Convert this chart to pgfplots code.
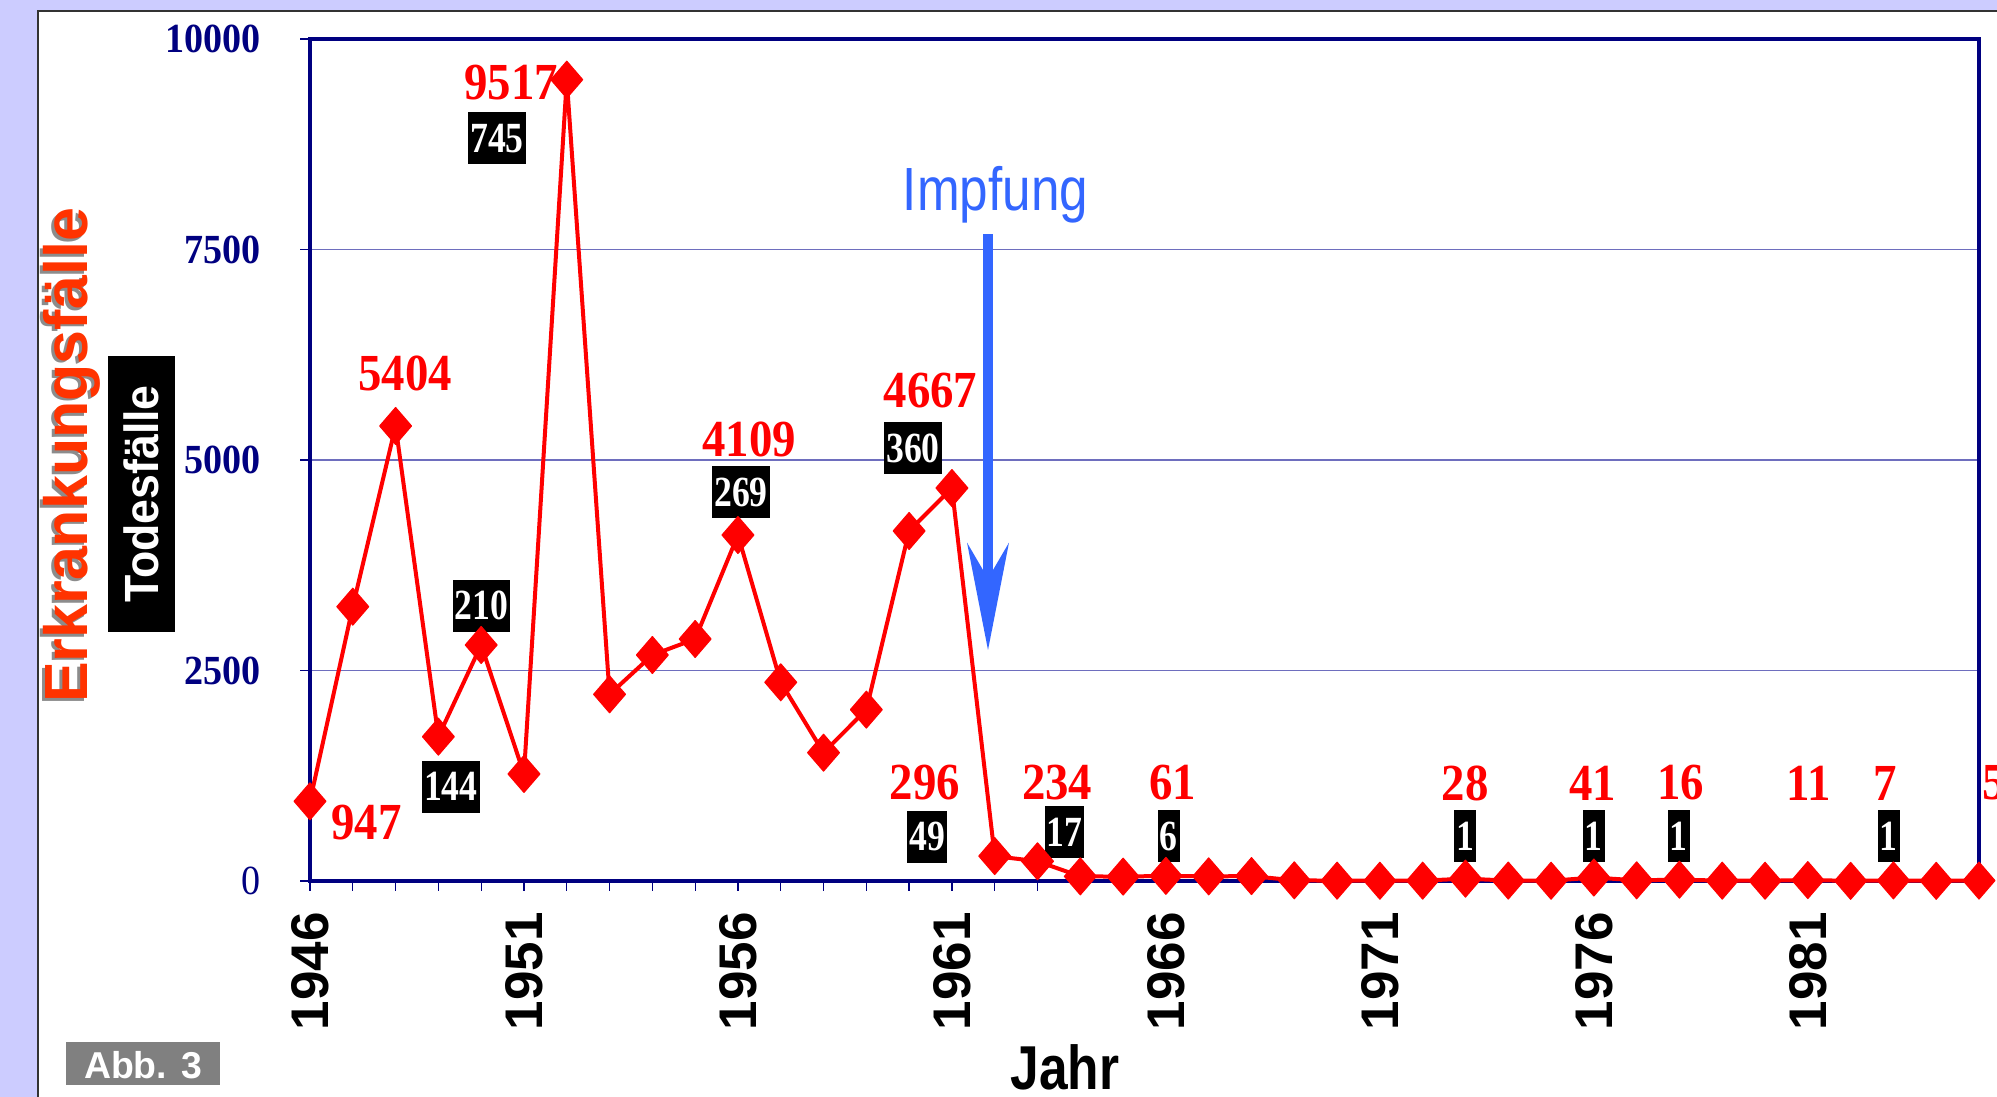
\documentclass[border=0pt]{standalone}
\usepackage{pgfplots}
\pgfplotsset{compat=1.18}
\usepackage{fontspec}
\setmainfont{Liberation Serif}
\newfontfamily\redser[FakeStretch=0.9]{Liberation Serif}
\newfontfamily\boxser[FakeStretch=0.83]{Liberation Serif}
\newfontfamily\tickser[FakeStretch=0.92]{Liberation Serif}
\newfontfamily\sans{Liberation Sans}
\newfontfamily\sansI[FakeStretch=0.84]{Liberation Sans}
\newfontfamily\sansJ[FakeStretch=0.83]{Liberation Sans}
\newfontfamily\sansT[FakeStretch=0.93]{Liberation Sans}
\definecolor{navy}{RGB}{0,0,128}
\definecolor{lav}{RGB}{204,204,255}
\definecolor{gridc}{RGB}{110,110,190}
\definecolor{impf}{RGB}{51,102,255}
\definecolor{erk}{RGB}{255,51,0}
\tikzset{
  rl/.style={text=red, inner sep=0pt, font=\redser\bfseries\fontsize{26pt}{28pt}\selectfont},
  bl/.style={fill=black, text=white, inner xsep=1pt, inner ysep=0pt, minimum height=26pt,
             font=\boxser\bfseries\fontsize{21.5pt}{22pt}\selectfont}
}
\begin{document}
\begin{tikzpicture}
\path[use as bounding box] (0pt,0pt) rectangle (998.5pt,548.5pt);
\clip (0pt,0pt) rectangle (998.5pt,548.5pt);
\fill[lav] (0pt,0pt) rectangle (998.5pt,548.5pt);
\fill[white] (19pt,-10pt) rectangle (1010pt,543pt);
\draw[black!80, line width=1pt] (19pt,-10pt) -- (19pt,543pt) -- (1010pt,543pt);

\begin{axis}[
  at={(155pt,108pt)}, anchor=south west,
  scale only axis, width=834.5pt, height=421pt,
  xmin=1946, xmax=1985, ymin=0, ymax=10000,
  clip=false,
  scaled ticks=false,
  axis line style={draw=navy, line width=2.4pt},
  tick align=outside, tick pos=left,
  xtick={1946,1951,1956,1961,1966,1971,1976,1981},
  xticklabels={1946,1951,1956,1961,1966,1971,1976,1981},
  minor xtick={1946,1947,...,1985},
  ytick={0,2500,5000,7500,10000},
  yticklabels={{\mdseries 0},2500,5000,7500,10000},
  major tick length=5pt, minor tick length=5pt,
  tick style={navy, line width=0.6pt},
  ymajorgrids, grid style={gridc, line width=0.8pt},
  yticklabel style={text=navy, inner sep=0pt, font=\tickser\bfseries\fontsize{20.7pt}{22pt}\selectfont},
  yticklabel shift=19.5pt,
  xticklabel style={rotate=90, anchor=east, inner sep=0pt, font=\sans\bfseries\fontsize{26.5pt}{28pt}\selectfont},
  xticklabel shift=10.5pt,
]
\addplot[color=red, line width=2pt, mark=diamond*, mark size=9.2pt,
  mark options={xscale=1.15, fill=red, line width=0.6pt, line join=round, solid}]
coordinates {
(1946,947) (1947,3258) (1948,5404) (1949,1714) (1950,2803) (1951,1271)
(1952,9517) (1953,2217) (1954,2684) (1955,2874) (1956,4109) (1957,2360)
(1958,1524) (1959,2035) (1960,4157) (1961,4667) (1962,296) (1963,234)
(1964,55) (1965,52) (1966,61) (1967,55) (1968,58) (1969,8) (1970,4)
(1971,3) (1972,4) (1973,28) (1974,5) (1975,3) (1976,41) (1977,8)
(1978,16) (1979,4) (1980,3) (1981,11) (1982,2) (1983,7) (1984,2) (1985,5)
};
\node[rl] at (axis cs:1950.70,9483) {9517};
\node[bl] at (axis cs:1950.37,8820) {745};
\node[rl] at (axis cs:1948.22,6027) {5404};
\node[bl] at (axis cs:1950.01,3268) {210};
\node[bl] at (axis cs:1949.29,1122) {144};
\node[rl] at (axis cs:1947.32,695) {947};
\node[rl] at (axis cs:1956.26,5245) {4109};
\node[bl] at (axis cs:1956.07,4620) {269};
\node[rl] at (axis cs:1960.50,5819) {4667};
\node[bl] at (axis cs:1960.09,5143) {360};
\node[rl] at (axis cs:1960.37,1164) {296};
\node[bl] at (axis cs:1960.42,526) {49};
\node[rl] at (axis cs:1963.46,1164) {234};
\node[bl] at (axis cs:1963.63,576) {17};
\node[rl] at (axis cs:1966.16,1164) {61};
\node[bl] at (axis cs:1966.07,534) {6};
\node[rl] at (axis cs:1972.99,1164) {28};
\node[bl] at (axis cs:1972.99,534) {1};
\node[rl] at (axis cs:1975.97,1164) {41};
\node[bl] at (axis cs:1976.00,534) {1};
\node[rl] at (axis cs:1978.03,1164) {16};
\node[bl] at (axis cs:1977.98,534) {1};
\node[rl] at (axis cs:1981.02,1164) {11};
\node[rl] at (axis cs:1982.81,1164) {7};
\node[bl] at (axis cs:1982.89,534) {1};
\node[rl] at (axis cs:1985.35,1164) {5};
\end{axis}

% Impfung arrow
\fill[impf] (491.5pt,261pt) rectangle (496.5pt,431.5pt);
\fill[impf] (491.5pt,263.5pt) -- (483.5pt,277.2pt) -- (494pt,223.5pt) -- (504.5pt,277.2pt) -- (496.5pt,263.5pt) -- cycle;
\node[anchor=base, inner sep=0pt, text=impf, font=\sansI\fontsize{30.5pt}{32pt}\selectfont] at (497.75pt,443.15pt) {Impfung};

% y labels
\node[rotate=90, inner sep=0pt, text=black!45, font=\sans\bfseries\fontsize{30.5pt}{32pt}\selectfont] at (34.5pt,319.5pt) {Erkrankungsfälle};
\node[rotate=90, inner sep=0pt, text=erk, font=\sans\bfseries\fontsize{30.5pt}{32pt}\selectfont] at (35.75pt,320.75pt) {Erkrankungsfälle};
\fill[black] (54pt,232.5pt) rectangle (87.25pt,370.5pt);
\node[rotate=90, inner sep=0pt, text=white, font=\sansT\bfseries\fontsize{24pt}{26pt}\selectfont] at (70.6pt,301.5pt) {Todesfälle};

% x label
\node[anchor=base, inner sep=0pt, font=\sansJ\bfseries\fontsize{31pt}{33pt}\selectfont] at (532.5pt,3.5pt) {Jahr};

% Abb. 3
\fill[black!50] (33pt,6pt) rectangle (110pt,27.5pt);
\node[anchor=base, inner sep=0pt, text=white, font=\sans\bfseries\fontsize{18.7pt}{20pt}\selectfont] at (71.5pt,9pt) {Abb. 3};
\end{tikzpicture}
\end{document}
